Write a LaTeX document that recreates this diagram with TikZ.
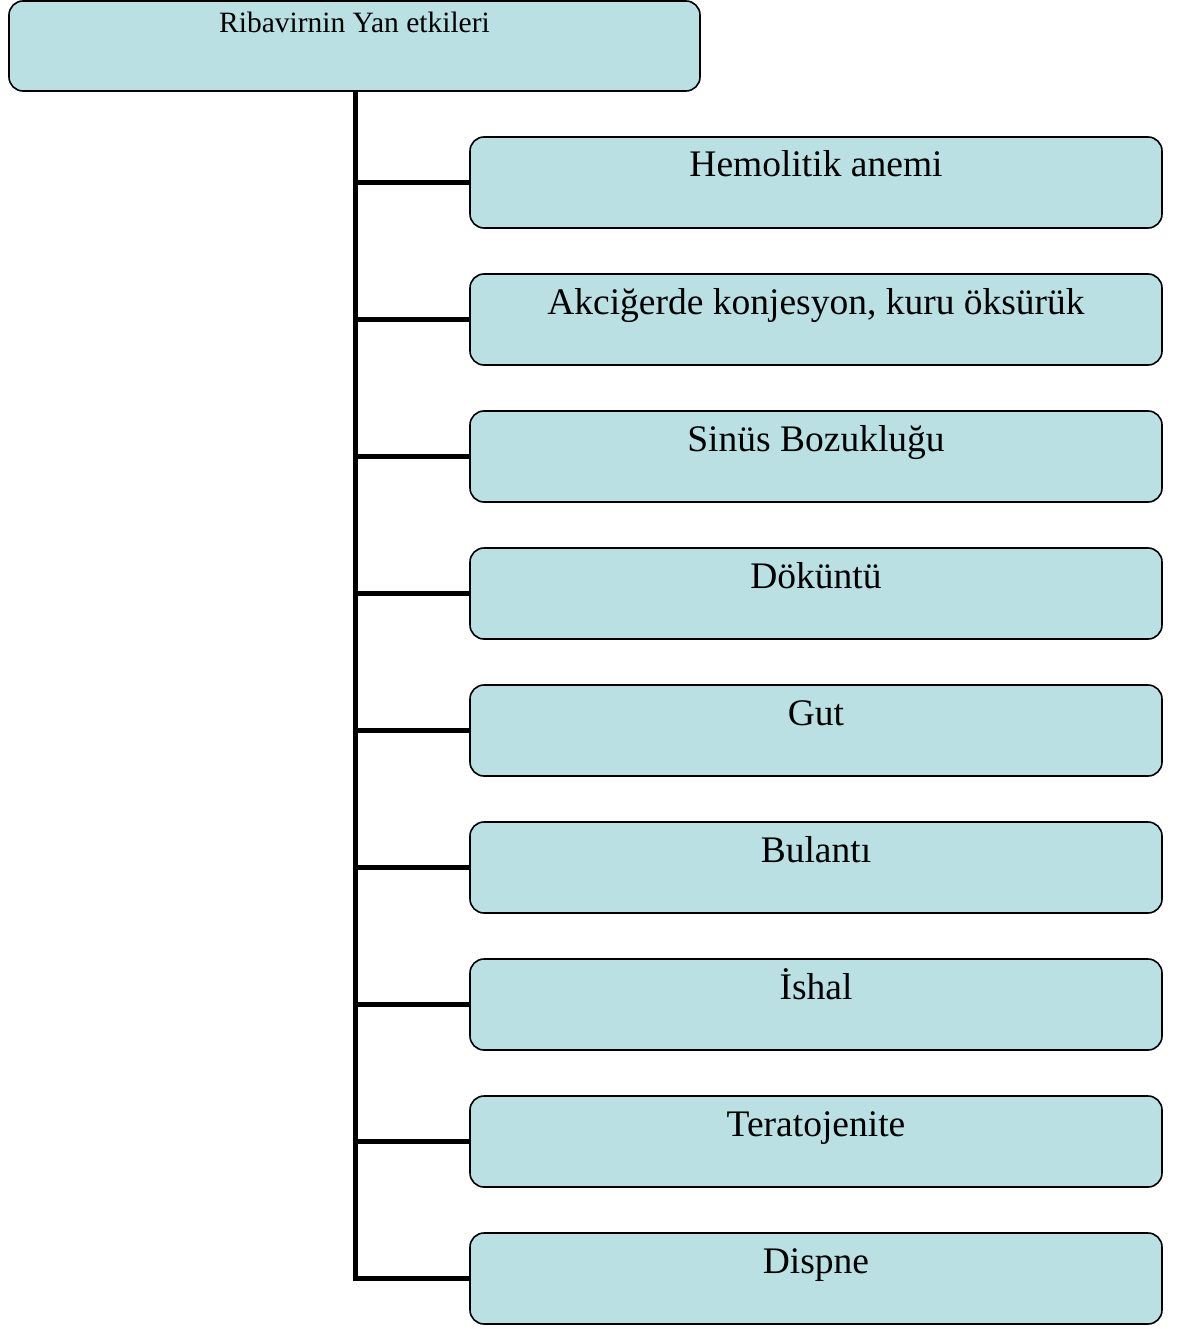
\documentclass[tikz,border=0pt]{standalone}
\usepackage{fontspec}
\setmainfont{Liberation Serif}
\definecolor{kutu}{RGB}{186,224,228}
\tikzset{
	anakutu/.style={draw=black,line width=1.6pt,fill=kutu,rounded corners=14pt,inner sep=0pt,
		minimum width=691pt,text height=32pt,text depth=58pt,font=\fontsize{29.5}{33}\selectfont},
	yankutu/.style={draw=black,line width=1.6pt,fill=kutu,rounded corners=14pt,inner sep=0pt,
		minimum width=692pt,text height=40pt,text depth=51pt,font=\fontsize{37.5}{42}\selectfont},
	kol/.style={line width=5pt}
}
\begin{document}
\begin{tikzpicture}[x=1pt,y=-1pt]
			\useasboundingbox (0,0) rectangle (1189,1329);
			\draw (354.5,46) node[anakutu] (ana) {Ribavirnin Yan etkileri};

			\draw (816,182.5) node[yankutu] (e1) {Hemolitik anemi};
			\draw (816,319.5) node[yankutu] (e2) {Akciğerde konjesyon, kuru öksürük};
			\draw (816,456.5) node[yankutu] (e3) {Sinüs Bozukluğu};
			\draw (816,593.5) node[yankutu] (e4) {Döküntü};
			\draw (816,730.5) node[yankutu] (e5) {Gut};
			\draw (816,867.5) node[yankutu] (e6) {Bulantı};
			\draw (816,1004.5) node[yankutu] (e7) {İshal};
			\draw (816,1141.5) node[yankutu] (e8) {Teratojenite};
			\draw (816,1278.5) node[yankutu] (e9) {Dispne};

			\coordinate (gövde) at (355,91);
			\draw[kol] (gövde) |- (e9.west);
			\draw[kol] (gövde |- e1.west) -- (e1.west);
			\draw[kol] (gövde |- e2.west) -- (e2.west);
			\draw[kol] (gövde |- e3.west) -- (e3.west);
			\draw[kol] (gövde |- e4.west) -- (e4.west);
			\draw[kol] (gövde |- e5.west) -- (e5.west);
			\draw[kol] (gövde |- e6.west) -- (e6.west);
			\draw[kol] (gövde |- e7.west) -- (e7.west);
			\draw[kol] (gövde |- e8.west) -- (e8.west);
		\end{tikzpicture}
\end{document}
